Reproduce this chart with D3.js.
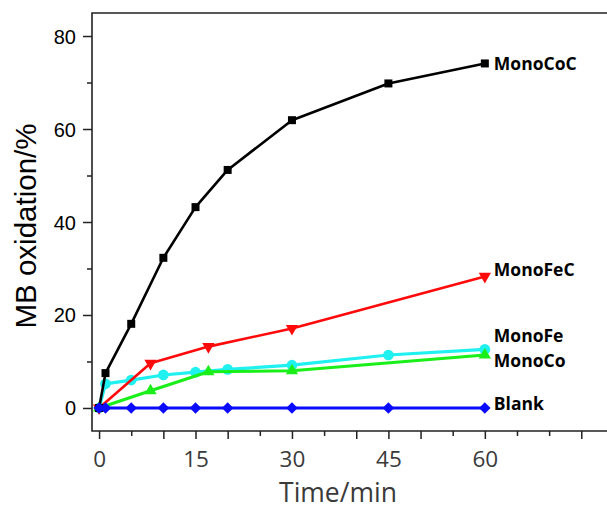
<!DOCTYPE html>
<html>
<head>
<meta charset="utf-8">
<script src="https://cdn.jsdelivr.net/npm/d3@7"></script>
<style>
	body { margin: 0; background: #fff; }
</style>
</head>
<body>
<script>

// sampling times (min) per series
var timesFull = [0, 1, 5, 10, 15, 20, 30, 45, 60];
var timesShort = [0, 8, 17, 30, 60];

// MB oxidation (%)
var monoCoC = [0, 7.5, 18.1, 32.3, 43.2, 51.2, 61.9, 69.8, 74.1];
var monoFeC = [0, 9.6, 13.2, 17.1, 28.3];
var monoFe = [0, 5.2, 6.0, 7.1, 7.7, 8.3, 9.2, 11.4, 12.6];
var monoCo = [0, 3.7, 7.8, 8.0, 11.4];
var blank = [0, 0, 0, 0, 0, 0, 0, 0, 0];

// series names and where their label sits (in %)
var names = ["MonoFe", "MonoCo", "MonoFeC", "MonoCoC", "Blank"];
var labelAt = [15.5, 10.1, 29.7, 74.1, 0.9];

// axis ticks
var yMajor = [0, 20, 40, 60, 80];
var yMinor = [10, 30, 50, 70];
var xLabels = [0, 15, 30, 45, 60];
var xLong = [0, 10, 15, 20, 30, 40, 45, 50, 60, 75];
var xShort = [5, 25, 35, 55, 65, 70];

window.onload = function() {
	makeChart();
};

function makeChart() {

	var width = 607, height = 510;

	var svg = d3.select("body")
				.append("svg")
				.attr("width", width)
				.attr("height", height);

	var xScale = d3.scaleLinear()
				   .domain([-1.1, 79])
				   .range([92, 607]);

	var yScale = d3.scaleLinear()
				   .domain([-4.95, 84.95])
				   .range([431, 13]);

	// series table, drawn in this order (blue on top)
	var series = [
		{name: names[0], t: timesFull, v: monoFe, color: "#1ff0f0", width: 3.2, shape: "circle"},
		{name: names[1], t: timesShort, v: monoCo, color: "#1aef1a", width: 3, shape: "up"},
		{name: names[2], t: timesShort, v: monoFeC, color: "#ff0a0a", width: 2.6, shape: "down"},
		{name: names[3], t: timesFull, v: monoCoC, color: "#000000", width: 2.6, shape: "square"},
		{name: names[4], t: timesFull, v: blank, color: "#0a0aff", width: 3.2, shape: "diamond"}
	];

	var symbols = {
		circle: d3.symbol().type(d3.symbolCircle).size(90),
		up: d3.symbol().type(d3.symbolTriangle).size(65),
		down: d3.symbol().type(d3.symbolTriangle).size(65),
		square: d3.symbol().type(d3.symbolSquare).size(64),
		diamond: d3.symbol().type(d3.symbolSquare).size(66)
	};
	var rotate = {circle: 0, up: 0, down: 180, square: 0, diamond: 45};

	// y axis, major and minor
	var yAxis = svg.append("g")
				   .attr("transform", "translate(92,0)")
				   .call(d3.axisLeft(yScale).tickValues(yMajor).tickSize(9).tickSizeOuter(0));
	yAxis.select(".domain").remove();
	yAxis.selectAll("line").attr("stroke", "#222").attr("stroke-width", 1.5);
	yAxis.selectAll("text")
		 .attr("x", -16)
		 .attr("dy", "0.35em")
		 .style("font-family", "'Liberation Sans', Arial, sans-serif")
		 .style("font-size", "20px")
		 .attr("fill", "#000");

	var yMinorAxis = svg.append("g")
				   .attr("transform", "translate(92,0)")
				   .call(d3.axisLeft(yScale).tickValues(yMinor).tickSize(5).tickFormat(""));
	yMinorAxis.select(".domain").remove();
	yMinorAxis.selectAll("line").attr("stroke", "#222").attr("stroke-width", 1.5);

	// x axis, long and short ticks
	var xAxis = svg.append("g")
				   .attr("transform", "translate(0,431)")
				   .call(d3.axisBottom(xScale).tickValues(xLong).tickSize(8)
						.tickFormat(function(d) { return xLabels.indexOf(d) >= 0 ? d : ""; }));
	xAxis.select(".domain").remove();
	xAxis.selectAll("line").attr("stroke", "#222").attr("stroke-width", 1.5);
	xAxis.selectAll("text")
		 .attr("y", 36)
		 .attr("dy", null)
		 .style("font-family", "'Open Sans', sans-serif")
		 .style("font-size", "22.5px")
		 .attr("fill", "#3a3a3a");

	var xShortAxis = svg.append("g")
				   .attr("transform", "translate(0,431)")
				   .call(d3.axisBottom(xScale).tickValues(xShort).tickSize(5).tickFormat(""));
	xShortAxis.select(".domain").remove();
	xShortAxis.selectAll("line").attr("stroke", "#222").attr("stroke-width", 1.5);

	// frame: left, bottom, top
	svg.append("path")
	   .attr("d", "M" + xScale.range()[1] + "," + yScale.range()[1] +
				  "H" + xScale.range()[0] +
				  "V" + yScale.range()[0] +
				  "H" + xScale.range()[1])
	   .attr("fill", "none")
	   .attr("stroke", "#222")
	   .attr("stroke-width", 1.6);

	// axis titles
	svg.append("text")
	   .attr("x", 338)
	   .attr("y", 502)
	   .style("text-anchor", "middle")
	   .style("font-family", "'Open Sans', sans-serif")
	   .style("font-size", "26.5px")
	   .attr("fill", "#3a3a3a")
	   .text("Time/min");

	svg.append("text")
	   .attr("transform", "translate(36,226) rotate(-90)")
	   .style("text-anchor", "middle")
	   .style("font-family", "'Liberation Sans', Arial, sans-serif")
	   .style("font-size", "29.5px")
	   .attr("fill", "#000")
	   .text("MB oxidation/%");

	var line = d3.line()
				 .x(function(d) { return xScale(d[0]); })
				 .y(function(d) { return yScale(d[1]); });

	series.forEach(function(s) {
		var pts = s.t.map(function(t, i) { return [t, s.v[i]]; });

		svg.append("path")
		   .datum(pts)
		   .attr("d", line)
		   .attr("fill", "none")
		   .attr("stroke", s.color)
		   .attr("stroke-width", s.width)
		   .attr("stroke-linejoin", "round");

		svg.selectAll(null)
		   .data(pts)
		   .enter()
		   .append("path")
		   .attr("d", symbols[s.shape])
		   .attr("transform", function(d) {
				return "translate(" + xScale(d[0]) + "," + yScale(d[1]) + ") rotate(" + rotate[s.shape] + ")";
		   })
		   .attr("fill", s.color);
	});

	// series labels at the right end
	svg.selectAll(".label")
	   .data(names)
	   .enter()
	   .append("text")
	   .attr("class", "label")
	   .attr("x", xScale(60) + 9)
	   .attr("y", function(d, i) { return yScale(labelAt[i]); })
	   .attr("dy", "0.36em")
	   .style("font-family", "'Open Sans', sans-serif")
	   .style("font-weight", "bold")
	   .style("font-size", "17.5px")
	   .attr("fill", "#000")
	   .text(function(d) { return d; });
};

</script>
</body>
</html>
